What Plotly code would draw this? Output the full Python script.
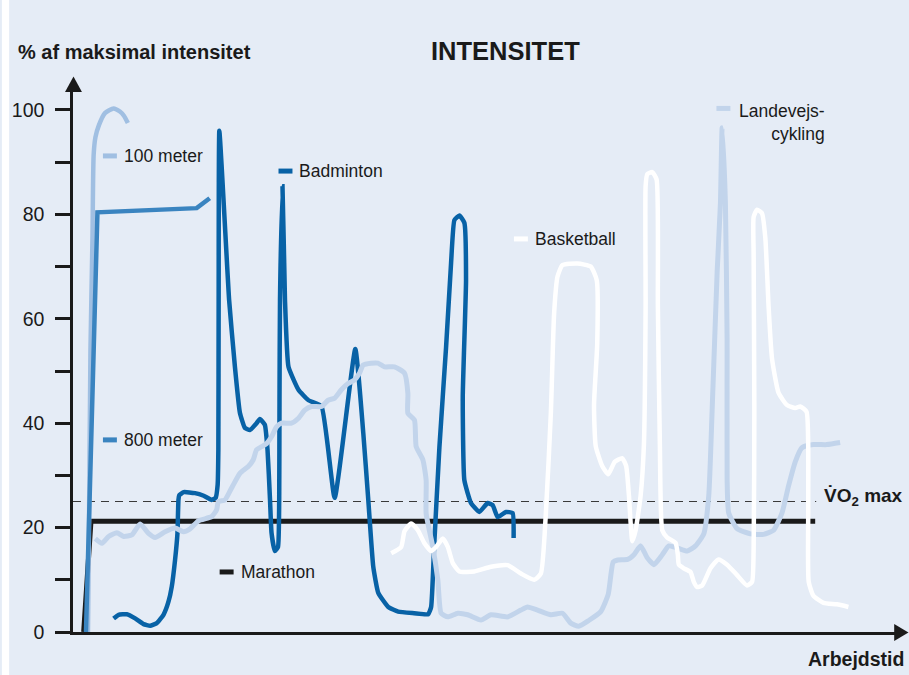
import plotly.graph_objects as go

BG = "#e5ecf6"
INK = "#1a1a1a"
FONT = "Liberation Sans, Arial, Helvetica, sans-serif"

# ---- axis ticks ----
y_major = [0, 20, 40, 60, 80, 100]
y_minor = [10, 30, 50, 70, 90]

# ---- series (arbejdstid in arbitrary units, % of max intensity) ----
vo2max_level = 25
vo2max_t = [0, 745]

t_marathon = [10.7, 18, 744]
v_marathon = [0, 21.2, 21.2]

t_100m = [15, 16, 17.5, 19.5, 20.7, 22.5, 26, 32, 40.7, 47, 51, 55]
v_100m = [0, 19.5, 54.0, 75.1, 91.4, 94.8, 97.1, 99.4, 100.3, 99.7, 98.9, 97.5]

t_800m = [13, 24.5, 124, 137]
v_800m = [0, 80.4, 81.2, 83.1]

t_badminton = [40.7, 45.7, 54, 62.3, 70.7, 77.3, 84, 90.7, 95.7, 99, 102.3, 104.7, 105.7, 106.5,
               111, 122.3, 131, 139, 143, 145, 145.7, 146, 146.7, 156.5, 162.3, 167.3, 172.3, 177.3,
               184, 187.3, 192.3, 195, 197.5, 199, 202.3, 205.5, 206.7, 207, 207.5, 210, 212.5, 216,
               226, 236, 249, 262.3, 283, 291, 296, 301, 306, 316, 326, 342, 356, 359, 362, 367.3,
               374, 379, 382.3, 387.3, 392.3, 394, 390.7, 392.3, 399, 407.3, 415.7, 420.7, 425.7,
               434, 440.7, 441.7]
v_badminton = [2.6, 3.3, 3.4, 2.6, 1.5, 1.2, 1.7, 3.3, 5.8, 8.7, 13.8, 18.9, 25.3, 26.2,
               26.8, 26.6, 26.1, 25.3, 25.7, 28.2, 34.9, 63.6, 96.0, 63.6, 50.8, 42.0, 39.1, 38.7,
               40.0, 40.8, 39.7, 34.9, 25.3, 19.0, 15.5, 16.3, 25.3, 44.4, 63.6, 85.4, 63.6, 50.8,
               46.4, 44.4, 43.3, 25.7, 54.2, 38.1, 25.3, 12.5, 7.5, 4.8, 3.9, 3.6, 3.4, 4.8, 16.3, 35.4,
               54.6, 70.7, 78.9, 79.8, 78.4, 67.4, 45.0, 29.1, 24.7, 23.0, 24.7, 24.3, 22.0,
               23.0, 22.8, 18.0]

t_cykling = [22.3, 29, 35.7, 44, 50.7, 59, 67.3, 75.7, 82.3, 92.3, 102.3, 110.7, 117, 125.7,
             139, 144, 145.7, 152.3, 159, 167.3, 175.7, 180.7, 184, 189, 194, 199, 204, 209, 219,
             225.7, 232.3, 239, 249, 255.7, 262.3, 269, 275.7, 282.3, 287.3, 290.7, 299, 305.7,
             312.3, 322.3, 332.3, 335.7, 335.7, 342.3, 344, 350.7, 354, 354, 360.7, 365.7, 369,
             375.7, 385.7, 395.7, 409, 419, 435.7, 449, 455.7, 465.7, 479, 490.7, 499, 507, 517,
             529, 536.5, 541.5, 546, 556, 562.3, 569, 575.7, 582.3, 590.7, 597.3, 605.7, 615.7,
             624, 632.3, 637.3, 640.7, 645.7, 649, 650.7, 654, 655.7, 655.7, 657.3, 665.7, 679,
             692.3, 702.3, 710.7, 717.3, 724, 730.7, 742.3, 755.7, 769]
v_cykling = [17.9, 17.0, 18.3, 19.0, 18.3, 18.6, 20.7, 18.9, 18.1, 19.2, 19.9, 19.2, 19.7, 21.3,
             22.1, 23.4, 25.0, 25.3, 27.6, 30.4, 31.7, 33.0, 34.9, 35.5, 36.1, 37.4, 39.3, 40.0, 40.0,
             40.9, 42.5, 43.2, 43.2, 44.4, 44.8, 46.4, 47.6, 48.3, 49.6, 51.1, 51.5, 51.5,
             50.8, 50.8, 49.6, 45.7, 41.9, 40.6, 35.5, 33.0, 29.1, 22.7, 16.3, 10.0, 3.6,
             2.9, 3.6, 3.3, 2.3, 3.3, 2.9, 4.2, 4.8, 4.2, 3.3, 3.6, 1.7, 1.1, 2.2,
             3.9, 7.2, 13.4, 13.8, 13.9, 14.8, 16.5, 14.2, 12.9, 14.8, 16.5, 16.1, 15.5,
             16.5, 18.8, 26.1, 42.5, 68.9, 82.1, 96.6, 82.1, 55.7, 29.3, 22.8, 19.8, 18.8,
             18.7, 19.5, 22.8, 28.0, 32.6, 35.3, 35.9, 35.9, 36.3]

t_basketball = [319, 329, 332.3, 339, 345.7, 352.3, 359, 364, 370.7, 375.7, 380.7, 387.3, 402.3,
                419, 435.7, 449, 462.3, 469, 474, 479, 482.3, 485.7, 490.7, 505.7, 519, 525, 525.5,
                522.3, 524, 530.5, 536.5, 543, 550.5, 554.5, 557.3, 560.7, 564, 569, 572.3, 574,
                574, 575.7, 580.7, 585, 586.3, 588.3, 590.7, 595.7, 604, 606.3, 607.3, 612.3, 619,
                622.3, 625.7, 630.7, 639, 647, 655.7, 665.7, 675.7, 680.7, 682.3, 683, 682.3, 682.3,
                685.7, 690.7, 694, 697.3, 700.7, 707.3, 715.7, 724, 729, 735.3, 737, 737, 737.5,
                742.3, 752.3, 765.7, 777.3]
v_basketball = [15.1, 16.3, 19.3, 20.8, 19.5, 17.0, 15.5, 16.3, 17.9, 16.3, 13.2, 11.6, 11.6,
                12.5, 12.8, 11.2, 10.0, 11.2, 22.7, 41.9, 61.1, 68.1, 70.3, 70.6, 70.0, 67.4, 55.2,
                43.5, 35.6, 31.8, 30.2, 32.6, 33.3, 31.8, 26.1, 17.4, 19.5, 26.1, 35.9, 62.3,
                85.4, 87.7, 88.1, 86.7, 62.3, 35.9, 19.5, 18.1, 17.1, 14.8, 12.9, 12.2, 11.5,
                9.6, 8.6, 8.9, 12.2, 13.9, 12.9, 10.9, 8.9, 9.6, 16.1, 42.5, 72.2, 79.5,
                80.9, 80.2, 75.5, 62.3, 52.4, 45.8, 43.5, 42.9, 43.2, 42.2, 35.9, 22.8, 9.6,
                6.9, 5.6, 5.3, 4.8]

# ---- label names / colours ----
names = ["100 meter", "800 meter", "Badminton", "Marathon", "Basketball", "Landevejs-<br>cykling"]
colors = ["#a0bfe2", "#3a84c0", "#0862a6", "#1a1a1a", "#ffffff", "#c2d4eb"]
label_t = [30, 30, 206, 147, 442, 645]
label_v = [91.2, 36.8, 88.3, 11.5, 75.3, 100.3]

fig = go.Figure()

fig.add_trace(go.Scatter(x=t_marathon, y=v_marathon, mode="lines",
                         line=dict(color=colors[3], width=5), hoverinfo="skip"))
fig.add_trace(go.Scatter(x=vo2max_t, y=[vo2max_level] * 2, mode="lines",
                         line=dict(color="#3a3a3a", width=1.2, dash="8px,6px"), hoverinfo="skip"))
fig.add_trace(go.Scatter(x=t_100m, y=v_100m, mode="lines",
                         line=dict(color=colors[0], width=4.5, shape="spline", smoothing=0.6)))
fig.add_trace(go.Scatter(x=t_800m, y=v_800m, mode="lines",
                         line=dict(color=colors[1], width=4.5)))
fig.add_trace(go.Scatter(x=t_badminton, y=v_badminton, mode="lines",
                         line=dict(color=colors[2], width=4.5, shape="spline", smoothing=0.4)))
fig.add_trace(go.Scatter(x=t_cykling, y=v_cykling, mode="lines",
                         line=dict(color=colors[5], width=5, shape="spline", smoothing=0.5)))
fig.add_trace(go.Scatter(x=t_basketball, y=v_basketball, mode="lines",
                         line=dict(color=colors[4], width=4.5, shape="spline", smoothing=0.5)))

# legend-like labels with short coloured dashes
for i, (nm, c, lt, lv) in enumerate(zip(names, colors, label_t, label_v)):
    fig.add_shape(type="line", xref="x", yref="y", x0=lt, x1=lt + 14, y0=lv, y1=lv,
                  line=dict(color=c, width=5))
    if i == 5:
        fig.add_annotation(x=lt + 111, y=lv - 2.6, xref="x", yref="y", text=nm, showarrow=False,
                           xanchor="right", yanchor="middle", align="right",
                           font=dict(family=FONT, size=17.5, color=INK))
    else:
        fig.add_annotation(x=lt + 19, y=lv, xref="x", yref="y", text=nm, showarrow=False,
                           xanchor="left", yanchor="middle",
                           font=dict(family=FONT, size=17.5, color=INK))

# V̇O2 max label
fig.add_annotation(x=751, y=25.9, xref="x", yref="y", text="<b>V\u0307O<sub>2</sub> max</b>",
                   showarrow=False, xanchor="left", yanchor="middle",
                   font=dict(family=FONT, size=19, color=INK))

# titles
fig.add_annotation(x=0.5267, y=1.072, xref="paper", yref="paper", text="<b>INTENSITET</b>",
                   showarrow=False, xanchor="center", yanchor="middle",
                   font=dict(family=FONT, size=25.5, color=INK))
fig.add_annotation(x=-0.0692, y=1.0701, xref="paper", yref="paper",
                   text="<b>% af maksimal intensitet</b>", showarrow=False,
                   xanchor="left", yanchor="middle", font=dict(family=FONT, size=20, color=INK))
fig.add_annotation(x=1.0133, y=-0.0498, xref="paper", yref="paper", text="<b>Arbejdstid</b>",
                   showarrow=False, xanchor="right", yanchor="middle",
                   font=dict(family=FONT, size=19.5, color=INK))

# arrow heads
fig.add_shape(type="path", xref="paper", yref="paper",
              path="M -0.0097,0.9963 L 0.0109,0.9963 L 0.0006,1.0249 Z",
              fillcolor=INK, line=dict(width=0))
fig.add_shape(type="path", xref="paper", yref="paper",
              path="M 0.999,0.0148 L 0.999,-0.0166 L 1.0164,-0.0009 Z",
              fillcolor=INK, line=dict(width=0))
# white strip at left edge
fig.add_shape(type="rect", xref="paper", yref="paper", x0=-0.0865, x1=-0.0777, y0=-0.1, y1=1.2,
              fillcolor="white", line=dict(width=0))

fig.update_layout(
    width=909, height=675, autosize=False,
    margin=dict(l=71, r=14, t=90, b=43, pad=0),
    paper_bgcolor=BG, plot_bgcolor=BG,
    showlegend=False,
    font=dict(family=FONT, color=INK),
)
fig.update_xaxes(range=[0, 824], showline=True, linecolor=INK, linewidth=2.5,
                 showgrid=False, zeroline=False, showticklabels=False, ticks="")
fig.update_yaxes(range=[0, 103.83], showline=True, linecolor=INK, linewidth=2.5,
                 showgrid=False, zeroline=False, ticks="outside", ticklen=15, tickwidth=2.5,
                 tickcolor=INK, tickvals=y_major, ticktext=[str(v) for v in y_major],
                 tickfont=dict(family=FONT, size=19.5, color=INK), ticklabelstandoff=7,
                 minor=dict(tickvals=y_minor, ticks="outside", ticklen=15, tickwidth=2.5,
                            tickcolor=INK, showgrid=False))

fig.write_html("out.html", config={"displayModeBar": False},
               post_script="document.body.style.margin='0';document.body.style.padding='0';")
